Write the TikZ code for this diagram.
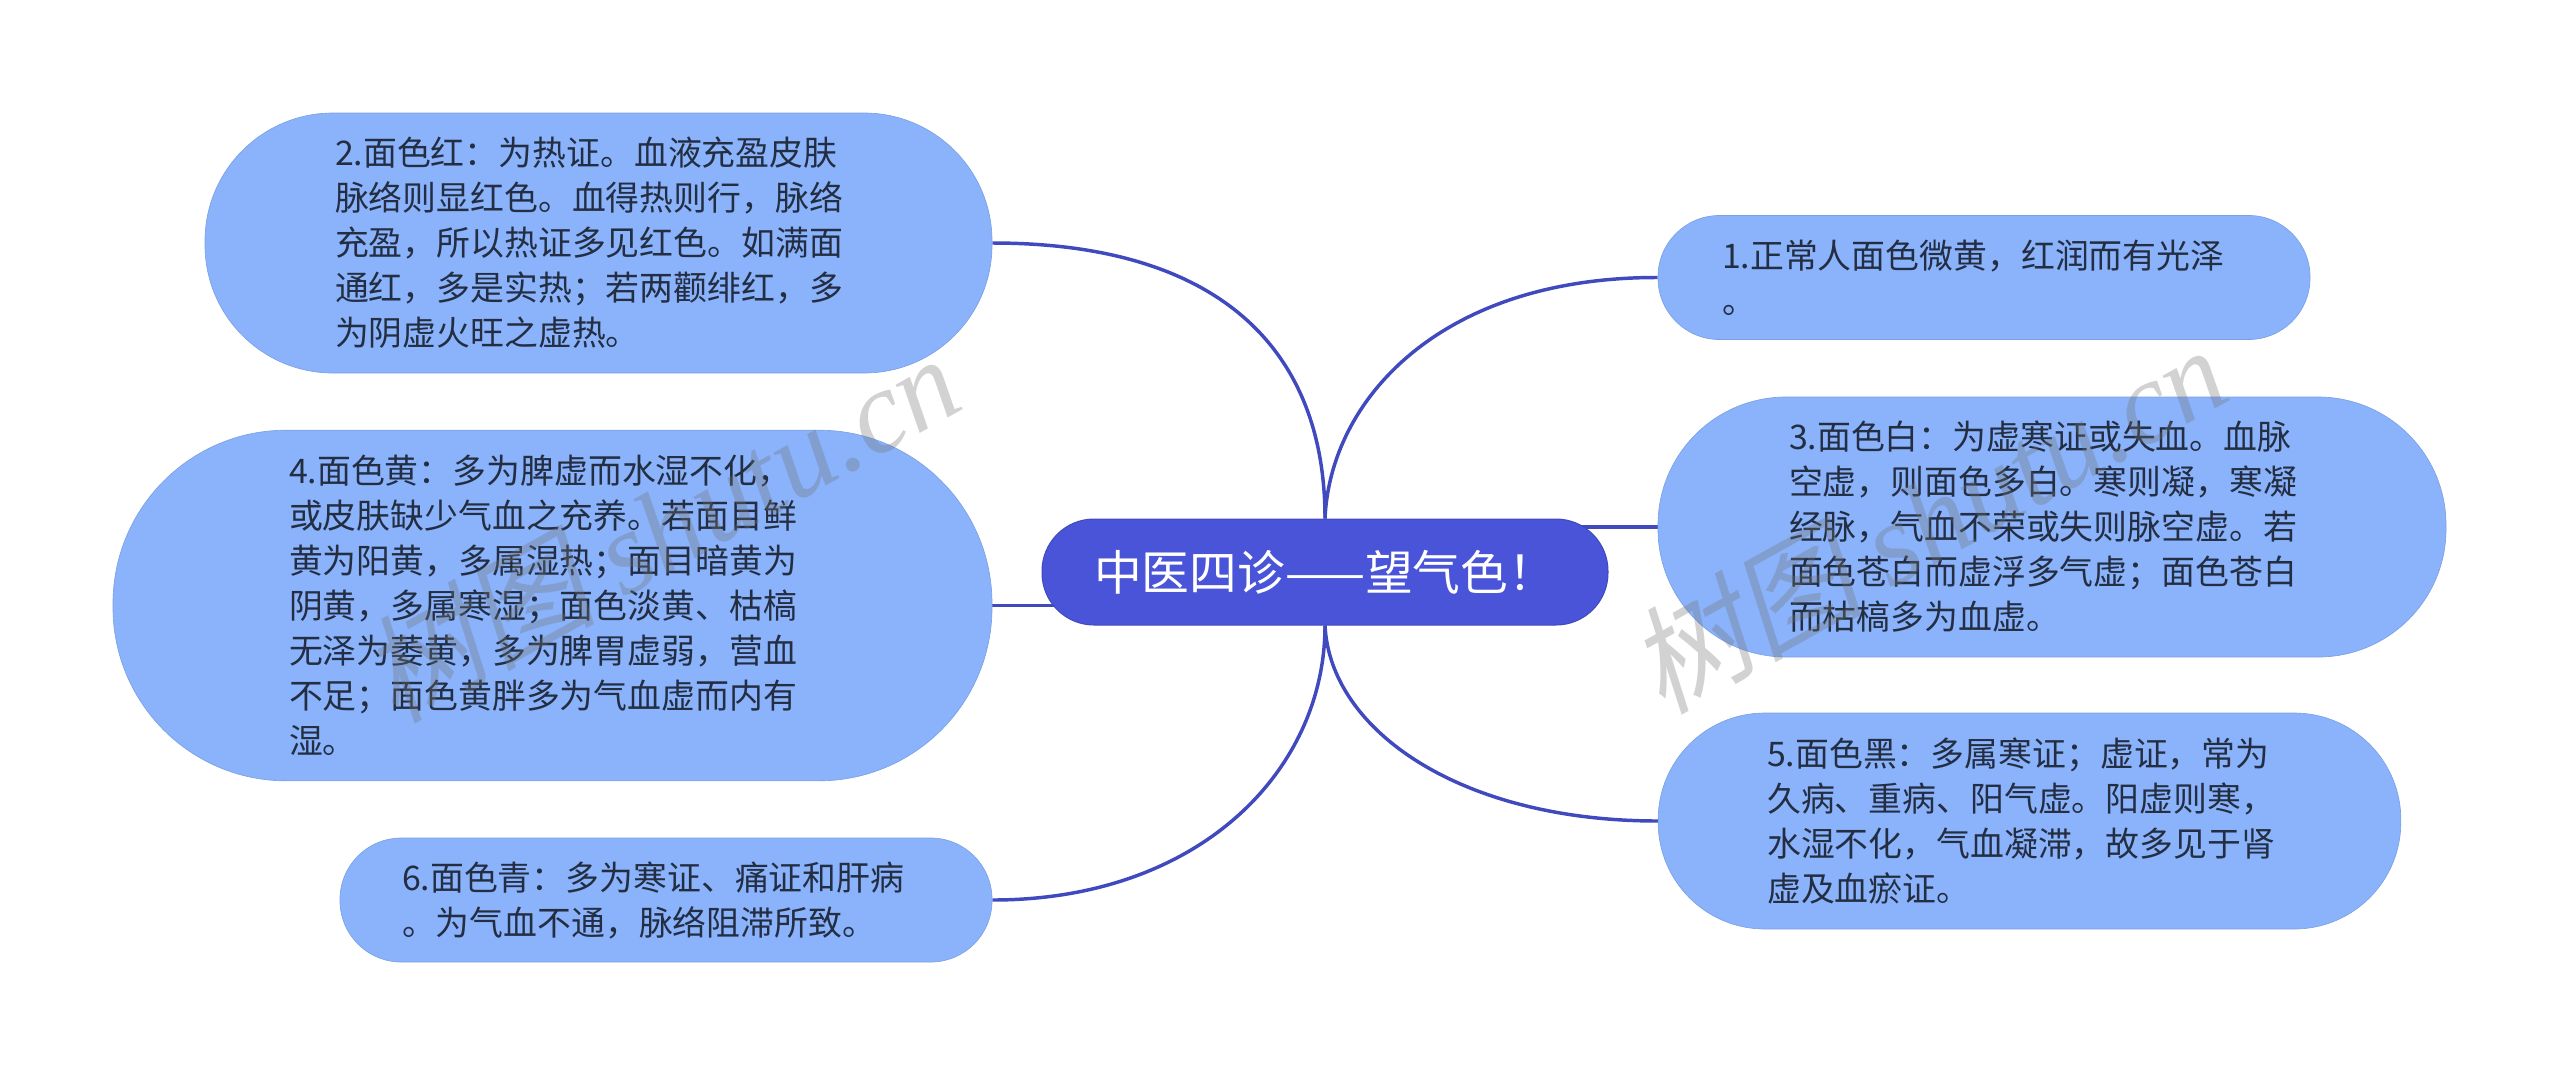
\documentclass[tikz,border=0pt]{standalone}
\usepackage{fontspec}
\setmainfont{Noto Sans CJK SC}
\newfontfamily\markcjk[FakeSlant=0.2]{Noto Sans CJK SC}
\newfontfamily\marklatin{Liberation Serif}[ItalicFont=*-Italic]
\usetikzlibrary{backgrounds}
\definecolor{bubblefill}{RGB}{138,179,252}
\definecolor{rootfill}{RGB}{74,84,216}
\definecolor{linkblue}{RGB}{64,73,190}
\definecolor{inkdark}{RGB}{36,46,66}
\tikzset{
  bubble/.style={fill=bubblefill,draw=bubblefill!90!black,line width=0.5pt,text=inkdark,align=left,
    font=\fontsize{25.4}{33.75}\selectfont,inner ysep=0pt},
  rootnode/.style={fill=rootfill,draw=linkblue,line width=0.75pt,text=white,align=center,
    font=\fontsize{35.8}{42}\selectfont,inner sep=0pt},
  link/.style={draw=linkblue,line width=2.6pt},
  wmark/.style={text=black!55,opacity=0.32,rotate=29,inner sep=0pt,font=\fontsize{88}{96}\selectfont}
}
\begin{document}
\begin{tikzpicture}[x=0.75pt,y=0.75pt,yscale=-1]
\useasboundingbox (0,0) rectangle (2560,1076);

% Root
\node [rootnode,minimum width=424.5pt,minimum height=79.5pt,rounded corners=39pt] (root) at (1325,572) {中医四诊——望气色！};

% Left bubbles
\node [bubble,text width=395.25pt,inner xsep=97.5pt,minimum height=195pt,rounded corners=96pt] (facered) at (598.5,243) {2.面色红：为热证。血液充盈皮肤\\脉络则显红色。血得热则行，脉络\\充盈，所以热证多见红色。如满面\\通红，多是实热；若两颧绯红，多\\为阴虚火旺之虚热。};
\node [bubble,text width=395.25pt,inner xsep=132pt,minimum height=263pt,rounded corners=130pt] (faceyellow) at (552.5,605.5) {4.面色黄：多为脾虚而水湿不化，\\或皮肤缺少气血之充养。若面目鲜\\黄为阳黄，多属湿热；面目暗黄为\\阴黄，多属寒湿；面色淡黄、枯槁\\无泽为萎黄，多为脾胃虚弱，营血\\不足；面色黄胖多为气血虚而内有\\湿。};
\node [bubble,text width=396pt,inner xsep=46.5pt,minimum height=93pt,rounded corners=46pt] (facegreen) at (666,900) {6.面色青：多为寒证、痛证和肝病\\。为气血不通，脉络阻滞所致。};

% Right bubbles
\node [bubble,text width=393pt,inner xsep=48pt,minimum height=93pt,rounded corners=46pt] (facenormal) at (1984,277.5) {1.正常人面色微黄，红润而有光泽\\。};
\node [bubble,text width=394.5pt,inner xsep=98.25pt,minimum height=195pt,rounded corners=96pt] (facewhite) at (2052,527) {3.面色白：为虚寒证或失血。血脉\\空虚，则面色多白。寒则凝，寒凝\\经脉，气血不荣或失则脉空虚。若\\面色苍白而虚浮多气虚；面色苍白\\而枯槁多为血虚。};
\node [bubble,text width=393.5pt,inner xsep=81.75pt,minimum height=162pt,rounded corners=80pt] (faceblack) at (2029.5,821) {5.面色黑：多属寒证；虚证，常为\\久病、重病、阳气虚。阳虚则寒，\\水湿不化，气血凝滞，故多见于肾\\虚及血瘀证。};

% Connectors
\begin{pgfonlayer}{background}
\draw [link] (root.north) .. controls (1325,350) and (1220,243) .. (facered.east);
\draw [link] (root.center |- faceyellow.east) -- (faceyellow.east);
\draw [link] (root.south) .. controls (1325,770) and (1200,900) .. (facegreen.east);
\draw [link] (root.north) .. controls (1330,400) and (1440,277) .. (facenormal.west);
\draw [link] (root.center |- facewhite.west) -- (facewhite.west);
\draw [link] (root.south) .. controls (1330,730) and (1460,821) .. (faceblack.west);
\end{pgfonlayer}

% Watermarks
\node [wmark] (markleft) at (660,527) {\markcjk 树图 \marklatin\itshape shutu.cn};
\node [wmark] (markright) at (1927,518) {\markcjk 树图 \marklatin\itshape shutu.cn};

\end{tikzpicture}
\end{document}
